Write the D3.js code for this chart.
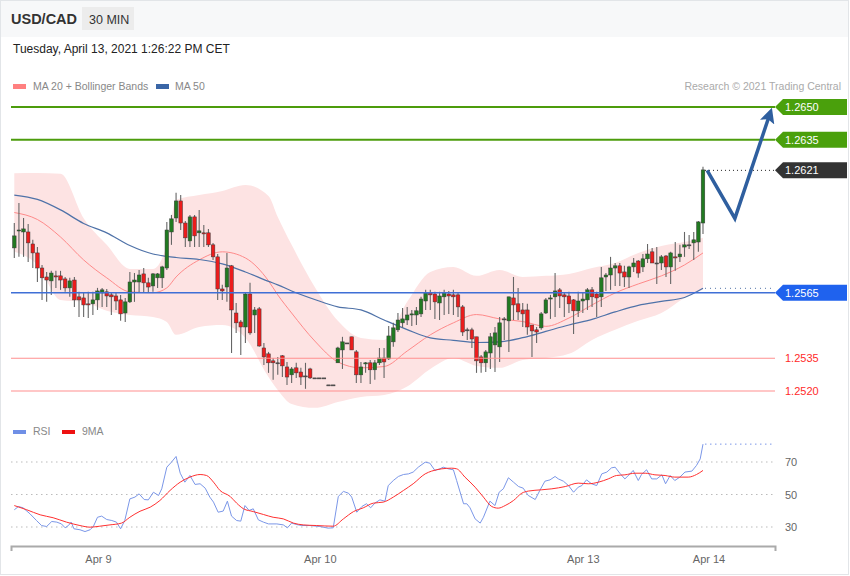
<!DOCTYPE html>
<html><head><meta charset="utf-8">
<script src="https://cdn.jsdelivr.net/npm/d3@7"></script>
<style>
html,body{margin:0;padding:0;background:#fff;}
svg{display:block;font-family:"Liberation Sans",Arial,sans-serif;}
</style></head><body>
<svg id="chart" width="850" height="576"></svg>
<script>
// ---------- DATA ----------
const symbol = "USD/CAD";
const timeframe = "30 MIN";
const stamp = "Tuesday, April 13, 2021 1:26:22 PM CET";
const credit = "Research \u00A9 2021 Trading Central";

const candleOpen = [1.25855,1.25933,1.25928,1.25928,1.25873,1.25832,1.25763,1.25722,1.25704,1.25727,
1.25727,1.25713,1.25672,1.25708,1.25631,1.25626,1.25599,1.25599,1.25617,1.25649,
1.25654,1.25640,1.25635,1.25617,1.25557,1.25608,1.25699,1.25699,1.25736,1.25695,
1.25681,1.25718,1.25718,1.25763,1.25928,1.25992,1.26070,1.25969,1.25887,1.25997,
1.25924,1.25924,1.25924,1.25869,1.25814,1.25667,1.25676,1.25773,1.25557,1.25516,
1.25493,1.25644,1.25548,1.25576,1.25397,1.25370,1.25338,1.25329,1.25361,1.25310,
1.25274,1.25306,1.25287,1.25269,1.25301,1.25260,1.25260,1.25260,1.25228,1.25228,
1.25329,1.25388,1.25420,1.25448,1.25379,1.25274,1.25324,1.25329,1.25297,1.25329,
1.25351,1.25347,1.25425,1.25480,1.25512,1.25525,1.25548,1.25548,1.25553,1.25612,
1.25649,1.25644,1.25603,1.25631,1.25644,1.25640,1.25640,1.25585,1.25480,1.25480,
1.25448,1.25356,1.25329,1.25374,1.25411,1.25402,1.25530,1.25521,1.25626,1.25599,
1.25571,1.25571,1.25502,1.25480,1.25489,1.25557,1.25621,1.25631,1.25663,1.25640,
1.25635,1.25617,1.25567,1.25612,1.25617,1.25663,1.25644,1.25631,1.25722,1.25731,
1.25763,1.25773,1.25745,1.25722,1.25768,1.25795,1.25768,1.25805,1.25837,1.25786,
1.25786,1.25818,1.25768,1.25814,1.25814,1.25859,1.25869,1.25878,1.25882,1.25969];

const candleHigh = [1.25969,1.26061,1.25992,1.25965,1.25892,1.25859,1.25777,1.25745,1.25750,1.25750,
1.25750,1.25722,1.25718,1.25722,1.25654,1.25649,1.25654,1.25654,1.25672,1.25672,
1.25667,1.25649,1.25649,1.25640,1.25626,1.25745,1.25740,1.25754,1.25763,1.25718,
1.25740,1.25740,1.25773,1.25974,1.26006,1.26107,1.26097,1.25978,1.26006,1.26006,
1.26029,1.25960,1.25942,1.25878,1.25827,1.25686,1.25832,1.25777,1.25603,1.25525,
1.25649,1.25695,1.25585,1.25585,1.25420,1.25379,1.25351,1.25356,1.25365,1.25333,
1.25310,1.25329,1.25306,1.25329,1.25306,1.25260,1.25260,1.25260,1.25228,1.25228,
1.25402,1.25448,1.25420,1.25448,1.25388,1.25333,1.25333,1.25342,1.25342,1.25397,
1.25397,1.25498,1.25512,1.25557,1.25580,1.25585,1.25571,1.25585,1.25631,1.25663,
1.25663,1.25654,1.25654,1.25663,1.25658,1.25663,1.25649,1.25594,1.25489,1.25489,
1.25448,1.25365,1.25388,1.25466,1.25493,1.25539,1.25539,1.25631,1.25722,1.25672,
1.25603,1.25599,1.25502,1.25493,1.25562,1.25626,1.25640,1.25740,1.25672,1.25649,
1.25654,1.25621,1.25654,1.25649,1.25672,1.25676,1.25654,1.25768,1.25740,1.25814,
1.25786,1.25786,1.25773,1.25773,1.25809,1.25800,1.25827,1.25873,1.25855,1.25859,
1.25823,1.25823,1.25837,1.25882,1.25869,1.25928,1.25914,1.25928,1.25978,1.26226];

const candleLow = [1.25809,1.25814,1.25814,1.25791,1.25763,1.25699,1.25617,1.25608,1.25640,1.25672,
1.25663,1.25654,1.25631,1.25585,1.25539,1.25539,1.25534,1.25548,1.25571,1.25585,
1.25585,1.25548,1.25571,1.25521,1.25516,1.25603,1.25608,1.25649,1.25649,1.25649,
1.25654,1.25672,1.25672,1.25754,1.25869,1.25974,1.25937,1.25859,1.25859,1.25859,
1.25859,1.25859,1.25859,1.25800,1.25617,1.25617,1.25608,1.25374,1.25466,1.25365,
1.25420,1.25457,1.25466,1.25402,1.25319,1.25283,1.25251,1.25274,1.25264,1.25228,
1.25237,1.25260,1.25228,1.25210,1.25255,1.25260,1.25260,1.25260,1.25228,1.25228,
1.25329,1.25301,1.25416,1.25388,1.25237,1.25237,1.25283,1.25232,1.25251,1.25319,
1.25260,1.25342,1.25402,1.25470,1.25489,1.25502,1.25498,1.25502,1.25539,1.25571,
1.25571,1.25530,1.25525,1.25548,1.25553,1.25548,1.25539,1.25452,1.25434,1.25397,
1.25283,1.25283,1.25287,1.25301,1.25287,1.25333,1.25434,1.25379,1.25525,1.25525,
1.25493,1.25457,1.25356,1.25420,1.25480,1.25553,1.25530,1.25539,1.25580,1.25539,
1.25557,1.25461,1.25539,1.25557,1.25571,1.25585,1.25539,1.25585,1.25658,1.25663,
1.25681,1.25681,1.25676,1.25672,1.25745,1.25718,1.25745,1.25786,1.25786,1.25690,
1.25754,1.25722,1.25690,1.25750,1.25791,1.25814,1.25850,1.25800,1.25837,1.25919];

const candleClose = [1.25910,1.25937,1.25942,1.25878,1.25832,1.25763,1.25718,1.25708,1.25740,1.25722,
1.25708,1.25672,1.25704,1.25617,1.25617,1.25594,1.25594,1.25617,1.25658,1.25663,
1.25635,1.25631,1.25612,1.25553,1.25608,1.25699,1.25708,1.25731,1.25695,1.25676,
1.25736,1.25736,1.25768,1.25937,1.25988,1.26070,1.25969,1.25901,1.25997,1.25910,
1.25933,1.25919,1.25869,1.25814,1.25667,1.25658,1.25763,1.25571,1.25512,1.25493,
1.25644,1.25466,1.25571,1.25406,1.25356,1.25329,1.25329,1.25329,1.25315,1.25264,
1.25301,1.25283,1.25264,1.25269,1.25260,1.25260,1.25260,1.25260,1.25228,1.25228,
1.25397,1.25425,1.25420,1.25388,1.25274,1.25310,1.25329,1.25297,1.25329,1.25351,
1.25333,1.25452,1.25489,1.25525,1.25530,1.25548,1.25553,1.25567,1.25621,1.25649,
1.25640,1.25608,1.25635,1.25649,1.25635,1.25631,1.25585,1.25470,1.25480,1.25438,
1.25338,1.25329,1.25379,1.25448,1.25466,1.25512,1.25530,1.25631,1.25594,1.25562,
1.25553,1.25493,1.25475,1.25470,1.25553,1.25617,1.25626,1.25658,1.25635,1.25631,
1.25599,1.25567,1.25612,1.25621,1.25663,1.25631,1.25626,1.25718,1.25731,1.25763,
1.25773,1.25740,1.25722,1.25768,1.25786,1.25740,1.25805,1.25827,1.25786,1.25786,
1.25814,1.25768,1.25832,1.25809,1.25827,1.25869,1.25869,1.25892,1.25974,1.26212];

// Indicator readings (candle index where they were read)
const bandIndex = [0,5,10,15,20,25,30,33,35,40,45,50,55,57,60,65,70,75,80,85,90,95,100,105,110,115,120,125,130,135,140,145,149];
const bandUpper = [1.26197,1.26198,1.26194,1.25991,1.25869,1.25759,1.25759,1.25869,1.26075,1.26097,1.26116,1.26143,1.26093,1.25997,1.25869,1.25676,1.25521,1.25443,1.25434,1.25608,1.25745,1.25768,1.25727,1.25754,1.25722,1.25727,1.25736,1.25763,1.25786,1.25832,1.25864,1.25882,1.25901];
const ma20 = [1.26017,1.25985,1.25905,1.25800,1.25718,1.25654,1.25650,1.25672,1.25722,1.25800,1.25837,1.25809,1.25704,1.25640,1.25557,1.25429,1.25333,1.25306,1.25312,1.25383,1.25457,1.25512,1.25550,1.25530,1.25518,1.25496,1.25534,1.25594,1.25649,1.25690,1.25727,1.25777,1.25832];
const bandLower = [1.25837,1.25777,1.25617,1.25608,1.25567,1.25548,1.25539,1.25516,1.25457,1.25493,1.25502,1.25443,1.25264,1.25205,1.25141,1.25123,1.25150,1.25173,1.25182,1.25221,1.25301,1.25351,1.25315,1.25306,1.25342,1.25351,1.25370,1.25434,1.25480,1.25521,1.25557,1.25626,1.25663];
const ma50 = [1.26097,1.26077,1.26029,1.25967,1.25924,1.25866,1.25827,1.25816,1.25811,1.25802,1.25782,1.25745,1.25702,1.25686,1.25658,1.25619,1.25585,1.25571,1.25525,1.25481,1.25443,1.25432,1.25422,1.25425,1.25444,1.25473,1.25502,1.25528,1.25562,1.25592,1.25610,1.25628,1.25670];

const rsiIndex = [0,0.9,1.9,3.4,4.8,5.9,7,8.1,9.2,10.2,11,11.7,12.3,12.9,14.2,15.3,16.4,17.1,18,18.9,20,21.1,22.1,23,23.9,25,26.1,27,28.1,29,30.1,31.2,31.9,33,34,35,35.9,36.9,38,39.1,40.2,41.3,42.3,43.1,44.1,45.2,46.1,47,48.1,49,49.9,50.8,51.7,52.8,53.9,55,56.8,58.2,59.1,60,61.1,62.2,64,66.1,67.9,69,70.1,71.2,72.3,73,74.1,75.2,76.2,77.1,78,79.1,80.2,80.9,82,83.1,84.2,85.3,86.3,87.4,88.9,89.9,91,92.1,92.8,93.9,95,95.7,97.2,97.9,98.6,99.7,100.8,101.5,102.9,104,104.9,105.8,106.9,108,109.1,110.1,111.2,112.7,113.7,114.8,115.9,117,117.7,118.8,119.9,121,122,122.8,123.8,124.9,126,127.1,128.2,129.2,130,131,132.1,133.2,133.9,135,135.7,136.8,137.9,139,140.1,140.9,141.9,142.9,144,145.1,146.6,147.6,148.4,149];
const rsiValue = [40.6,42.6,41.8,38.1,34.0,30.9,30.3,33.4,33.0,31.9,29.5,30.9,33.0,28.9,28.3,27.2,28.3,30.3,36.0,36.7,34.6,34.0,33.0,28.9,34.0,47.3,48.4,50.4,46.9,46.7,51.4,49.4,53.5,66.8,69.9,73.4,63.1,57.6,61.7,56.2,56.6,53.9,48.4,45.3,39.1,39.8,45.9,36.7,34.0,33.6,43.2,40.2,41.2,34.4,33.0,31.9,31.9,31.3,29.5,32.4,31.5,30.9,30.9,30.3,29.3,29.5,48.8,51.9,50.8,48.4,39.1,42.6,44.3,41.8,44.7,46.7,45.9,55.5,58.6,61.1,62.3,62.7,63.8,66.8,69.9,69.3,64.8,65.8,66.8,65.8,65.2,58.6,44.3,44.3,41.8,35.0,32.4,36.0,45.9,43.2,51.4,53.5,60.3,57.6,54.9,53.9,49.4,46.9,52.5,58.2,59.0,61.1,59.6,58.2,55.5,51.4,54.5,55.5,59.0,56.6,55.5,62.7,63.8,66.4,66.8,63.1,59.6,62.7,64.8,58.6,62.3,65.2,59.6,59.6,62.1,56.6,61.7,58.6,60.7,63.8,64.4,67.9,71.9,81.0];
const rsiMaIndex = [0,2.7,5.6,8.4,11.3,14.2,16.4,18.5,20.7,23.2,25,27.2,29.4,31.5,33.7,35.9,38,40.2,41.6,43.1,44.5,46.7,48.1,49.6,51.7,53.9,56,58.2,60.4,62.5,65.4,69,71.2,73.4,75.5,77.7,79.8,82,84.2,86.3,88.9,90.3,92.5,94.6,95.7,97.5,99.7,101.5,103.3,104.7,106.2,108,109.8,111.2,114.1,116.3,119.2,122,124.2,126.4,128.5,130.3,132.1,134.3,136.5,138.6,140.8,142.9,145.8,147.6,149];
const rsiMaValue = [43.2,40.6,37.5,35.7,33.0,30.9,29.9,30.5,31.3,32.4,36.0,39.7,42.2,46.3,52.5,57.6,60.7,62.3,61.7,57.6,52.5,48.8,44.7,41.2,39.5,37.7,36.0,35.0,32.4,31.3,30.9,30.5,35.0,39.5,41.8,44.7,45.3,48.4,52.5,56.6,62.7,64.4,65.8,66.2,65.8,60.7,54.5,48.4,42.6,41.6,43.2,46.3,50.8,52.1,52.9,53.5,54.9,57.0,56.6,57.6,59.6,61.7,62.1,63.1,63.1,62.1,61.7,60.7,60.7,62.3,64.8];
const rsiTicks = [30, 50, 70];

const xTickIndex = [18.1, 66.1, 123.0, 150.2];
const xTickLabels = ["Apr 9", "Apr 10", "Apr 13", "Apr 14"];

const resistanceLevels = [1.2650, 1.2635];
const lastPrice = 1.2621;
const pivotLevel = 1.2565;
const supportLevels = [1.2535, 1.2520];

const forecastIndex = [149.9, 155.9, 163.5];
const forecastPrice = [1.2621, 1.2599, 1.2647];

// ---------- CHART ----------
const svg = d3.select("#chart");
const L = 11, R = 775;
const x = d3.scaleLinear().domain([-0.714, 164.58]).range([L, R]);
const y = d3.scaleLinear().domain([1.2520, 1.2650]).range([391, 107]);
const yR = d3.scaleLinear().domain([30, 70]).range([527, 462]);
const fmt = d3.format(".4f");
const last = candleClose.length - 1;

svg.append("rect").attr("x",0.5).attr("y",0.5).attr("width",848).attr("height",574)
  .attr("fill","#fff").attr("stroke","#e2e5e8");
svg.append("rect").attr("x",1).attr("y",1).attr("width",847).attr("height",36).attr("fill","#f7f8f9");

svg.append("text").attr("x",11).attr("y",24).attr("font-size",14.5).attr("font-weight","bold")
  .attr("fill","#333").text(symbol);
svg.append("rect").attr("x",82).attr("y",7).attr("width",52).attr("height",23).attr("fill","#ececec");
svg.append("text").attr("x",89).attr("y",23.5).attr("font-size",12.5).attr("fill","#333").text(timeframe);
svg.append("text").attr("x",13).attr("y",53).attr("font-size",12).attr("fill","#222").text(stamp);

// legend
svg.append("rect").attr("x",13).attr("y",84).attr("width",13).attr("height",5).attr("fill","#ff8080");
svg.append("text").attr("x",33).attr("y",90).attr("font-size",10.5).attr("fill","#888").text("MA 20 + Bollinger Bands");
svg.append("rect").attr("x",156).attr("y",84).attr("width",13).attr("height",5).attr("fill","#3a66a6");
svg.append("text").attr("x",175).attr("y",90).attr("font-size",10.5).attr("fill","#888").text("MA 50");
svg.append("text").attr("x",841).attr("y",90).attr("text-anchor","end").attr("font-size",10.5).attr("fill","#aaa").text(credit);

// bands
const band = bandIndex.map((d,i)=>({i:d, up:bandUpper[i], mid:ma20[i], lo:bandLower[i], m50:ma50[i]}));
svg.append("path").datum(band)
  .attr("d", d3.area().x(d=>x(d.i)).y0(d=>y(d.lo)).y1(d=>y(d.up)).curve(d3.curveMonotoneX))
  .attr("fill","#fde3e3");
svg.append("path").datum(band)
  .attr("d", d3.line().x(d=>x(d.i)).y(d=>y(d.mid)).curve(d3.curveMonotoneX))
  .attr("fill","none").attr("stroke","#ff8a8a").attr("stroke-width",1);
svg.append("path").datum(band)
  .attr("d", d3.line().x(d=>x(d.i)).y(d=>y(d.m50)).curve(d3.curveMonotoneX))
  .attr("fill","none").attr("stroke","#4f72a8").attr("stroke-width",1.2);

// candles
const candles = candleOpen.map((o,i)=>({i, o, h:candleHigh[i], l:candleLow[i], c:candleClose[i]}));
const cg = svg.append("g");
cg.selectAll("line.wick").data(candles).join("line").attr("class","wick")
  .attr("x1",d=>x(d.i)).attr("x2",d=>x(d.i))
  .attr("y1",d=>y(d.h)).attr("y2",d=>y(d.l))
  .attr("stroke","#666").attr("stroke-width",1.1);
cg.selectAll("rect.body").data(candles).join("rect").attr("class","body")
  .attr("x",d=>x(d.i)-1.8).attr("width",3.6)
  .attr("y",d=>y(Math.max(d.o,d.c)))
  .attr("height",d=>Math.max(1, Math.abs(y(d.o)-y(d.c))))
  .attr("fill",d=>d.c>d.o ? "#217a21" : (d.c<d.o ? "#ec1c1c" : "#555"))
  .attr("stroke","#3a3a3a").attr("stroke-width",0.5);

// levels
function tag(val, fill) {
  const yy = y(val);
  svg.append("path")
    .attr("d", `M${R},${yy} L${R+8},${yy-8} L847,${yy-8} L847,${yy+8} L${R+8},${yy+8} Z`)
    .attr("fill", fill);
  svg.append("text").attr("x",785).attr("y",yy+4).attr("font-size",11).attr("fill","#fff").text(fmt(val));
}
resistanceLevels.forEach(v=>{
  svg.append("line").attr("x1",L).attr("x2",R).attr("y1",y(v)).attr("y2",y(v))
    .attr("stroke","#4c9c0c").attr("stroke-width",2);
  tag(v, "#4aa00c");
});
svg.append("line").attr("x1",L).attr("x2",R).attr("y1",y(pivotLevel)).attr("y2",y(pivotLevel))
  .attr("stroke","#3f6fd6").attr("stroke-width",1.5);
tag(pivotLevel, "#1f62ee");
svg.append("line").attr("x1",x(last)+2).attr("x2",R).attr("y1",y(lastPrice)).attr("y2",y(lastPrice))
  .attr("stroke","#222").attr("stroke-dasharray","1,3");
tag(lastPrice, "#333");
svg.append("line").attr("x1",x(last)+2).attr("x2",R).attr("y1",y(ma50[ma50.length-1])).attr("y2",y(ma50[ma50.length-1]))
  .attr("stroke","#4f72a8").attr("stroke-dasharray","1,4");
supportLevels.forEach(v=>{
  svg.append("line").attr("x1",L).attr("x2",R).attr("y1",y(v)).attr("y2",y(v))
    .attr("stroke","#ff8f8f").attr("stroke-width",1.2);
  svg.append("text").attr("x",785).attr("y",y(v)+4).attr("font-size",11).attr("fill","#ff2a2a").text(fmt(v));
});

// forecast arrow
const defs = svg.append("defs");
defs.append("marker").attr("id","ah").attr("viewBox","0 0 10 10").attr("refX",6).attr("refY",5)
  .attr("markerUnits","userSpaceOnUse").attr("markerWidth",15).attr("markerHeight",15).attr("orient","auto")
  .append("path").attr("d","M0,0 L10,5 L0,10 L2,5 Z").attr("fill","#2f5f9f");
svg.append("path").datum(forecastIndex.map((d,i)=>[d, forecastPrice[i]]))
  .attr("d", d3.line().x(d=>x(d[0])).y(d=>y(d[1])))
  .attr("fill","none").attr("stroke","#2f5f9f").attr("stroke-width",3.5)
  .attr("stroke-linejoin","miter").attr("marker-end","url(#ah)");

// RSI panel
svg.append("rect").attr("x",13).attr("y",430).attr("width",13).attr("height",4).attr("fill","#6f8fe6");
svg.append("text").attr("x",33).attr("y",435).attr("font-size",10.5).attr("fill","#888").text("RSI");
svg.append("rect").attr("x",62).attr("y",430).attr("width",13).attr("height",4).attr("fill","#ee1111");
svg.append("text").attr("x",82).attr("y",435).attr("font-size",10.5).attr("fill","#888").text("9MA");

rsiTicks.forEach(t=>{
  svg.append("line").attr("x1",L).attr("x2",R).attr("y1",yR(t)).attr("y2",yR(t))
    .attr("stroke","#bbb").attr("stroke-dasharray","1.5,3.5");
  svg.append("text").attr("x",785).attr("y",yR(t)+4).attr("font-size",11).attr("fill","#666").text(t);
});
svg.append("path").datum(rsiIndex.map((d,i)=>[d, rsiValue[i]]))
  .attr("d", d3.line().x(d=>x(d[0])).y(d=>yR(d[1])))
  .attr("fill","none").attr("stroke","#7b97e8").attr("stroke-width",1);
svg.append("path").datum(rsiMaIndex.map((d,i)=>[d, rsiMaValue[i]]))
  .attr("d", d3.line().x(d=>x(d[0])).y(d=>yR(d[1])).curve(d3.curveMonotoneX))
  .attr("fill","none").attr("stroke","#ff3030").attr("stroke-width",1);
svg.append("line").attr("x1",x(last)+2).attr("x2",R)
  .attr("y1",yR(rsiValue[rsiValue.length-1])).attr("y2",yR(rsiValue[rsiValue.length-1]))
  .attr("stroke","#7b97e8").attr("stroke-dasharray","1.5,3.5");

// x axis
const ax = svg.append("g").attr("transform","translate(0,546)")
  .call(d3.axisBottom(x).tickValues(xTickIndex).tickFormat((d,i)=>xTickLabels[i])
    .tickSizeInner(0).tickSizeOuter(5).tickPadding(9));
ax.select(".domain").attr("stroke","#aaa").attr("stroke-width",2);
ax.selectAll("text").attr("fill","#666").attr("font-size",11).attr("font-family","Liberation Sans, Arial, sans-serif");
</script>
</body></html>
